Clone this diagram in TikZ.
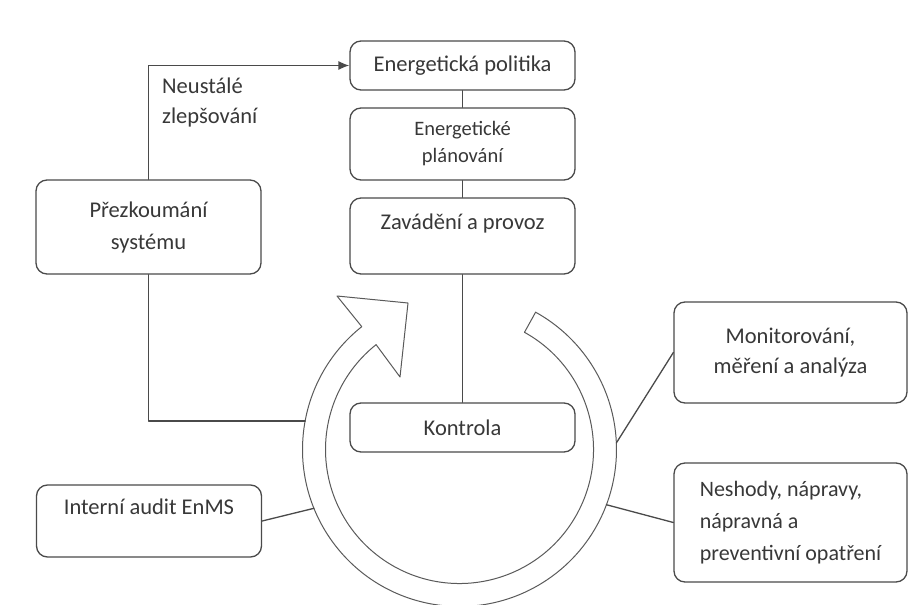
\documentclass[tikz,border=0pt]{standalone}
\usepackage{fontspec}
\setmainfont{Carlito}
\usetikzlibrary{arrows.meta}
\definecolor{linegray}{HTML}{4A4A4A}
\definecolor{ringgray}{HTML}{5A5A5A}
\definecolor{txtgray}{HTML}{383838}

\begin{document}
\begin{tikzpicture}[x=1pt,y=-1pt,line cap=round,line join=round,
  box/.style={draw=linegray,line width=1.3pt,rounded corners=11pt,fill=white,text=txtgray,
    font=\fontsize{22.5}{32}\selectfont,align=center,inner sep=0pt},
  toptext/.style={text height=16pt,text depth=30pt},
  wire/.style={draw=linegray,line width=1.3pt},
  ring/.style={draw=ringgray,line width=1pt,fill=white}]
  \useasboundingbox[fill=white] (0,0) rectangle (913,605);
  \coordinate (C) at (459.5,449.5);
  \coordinate (tipIn) at (400,377);
  \coordinate (tip) at (408,303);
  \coordinate (tipOut) at (337,296);
  \draw[ring] ([shift={(-128.5:157)}]C) arc[start angle=-128.5,end angle=-421,radius=157]
    -- ([shift={(-421:134)}]C) arc[start angle=-421,end angle=-128.5,radius=134]
    -- (tipIn) -- (tip) -- (tipOut) -- cycle;
  \coordinate (rP) at ([shift={(-169.5:157)}]C);
  \coordinate (rA) at ([shift={(158:157)}]C);
  \coordinate (rM) at ([shift={(-2.4:157)}]C);
  \coordinate (rN) at ([shift={(20.6:157)}]C);
  \node[box,minimum width=225pt,minimum height=49pt] (pol) at (462.5,65.5) {Energetická politika};
  \node[box,minimum width=225pt,minimum height=72pt,font=\fontsize{20.5}{27}\selectfont] (plan) at (462.5,144) {Energetické\\plánování};
  \node[box,toptext,minimum width=225pt,minimum height=76pt] (zav) at (462.5,236) {Zavádění a provoz};
  \node[box,minimum width=225pt,minimum height=49pt] (kon) at (462.5,427.5) {Kontrola};
  \node[box,minimum width=225pt,minimum height=94pt] (prez) at (148.5,227) {Přezkoumání\\systému};
  \node[box,toptext,minimum width=225pt,minimum height=72pt] (audit) at (149,521) {Interní audit EnMS};
  \node[box,minimum width=233pt,minimum height=101pt,font=\fontsize{22.5}{30}\selectfont] (mon) at (790.5,352.5) {Monitorování,\\měření a analýza};
  \node[box,minimum width=233pt,minimum height=119pt,align=left,font=\fontsize{22}{32}\selectfont] (nes) at (790.5,522.5) {Neshody, nápravy,\\nápravná a\\preventivní opatření};
  \node[text=txtgray,font=\fontsize{22.5}{30}\selectfont,align=left,anchor=west,inner sep=0pt] (neu) at (162,102) {Neustálé\\zlepšování};
  \draw[wire,-{Latex[length=11pt,width=9pt]}] (prez.north) |- (pol.west);
  \draw[wire] (pol.south) -- (plan.north);
  \draw[wire] (plan.south) -- (zav.north);
  \draw[wire] (zav.south) -- (kon.north);
  \draw[wire] (prez.south) |- (rP);
  \draw[wire] (audit.east) -- (rA);
  \draw[wire] (mon.west) -- (rM);
  \draw[wire] (nes.west) -- (rN);
\end{tikzpicture}
\end{document}
